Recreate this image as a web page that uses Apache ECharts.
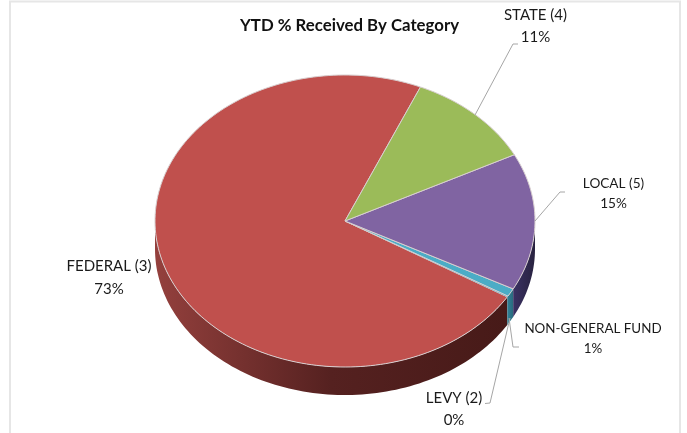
<!DOCTYPE html>
<html>
<head>
<meta charset="utf-8">
<style>html,body{margin:0;padding:0;background:#fff}#c{width:687px;height:433px}</style>
<script src="https://cdn.jsdelivr.net/npm/echarts@6/dist/echarts.min.js"></script>
</head>
<body>
<div id="c"></div>
<script>
const categories = ['STATE (4)', 'LOCAL (5)', 'NON-GENERAL FUND', 'LEVY (2)', 'FEDERAL (3)'];
const values = [11, 15.2, 0.9, 0.1, 72.8];
const percentLabels = ['11%', '15%', '1%', '0%', '73%'];
const topColors = ['#9BBB59', '#8064A2', '#4BACC6', '#4BACC6', '#C0504D'];
const sideLight = ['#6f8a3a', '#3a3163', '#2f7f95', '#2f7f95', '#8e3a38'];
const sideDark = ['#4f6429', '#28223f', '#2a6a7c', '#2a6a7c', '#451815'];

const cx = 345, cy = 221, rx = 190, ry = 146, depth = 28, startDeg = 23.4;
const total = values.reduce((a, b) => a + b, 0);
const labelPos = [[535.5, 26], [613.5, 194], [593, 338.5], [454, 409], [109, 277.5]];
const labelFont = [15, 13.6, 13.4, 15, 15];
const labelLine = [22, 20, 19.5, 22, 22.5];
const leaders = [
  [[475, 115], [513, 44], [518, 44]],
  [[535, 221], [560, 192], [565, 192]],
  [[509, 318], [513, 347], [519, 347]],
  [[510, 318], [490, 403], [485, 403.5]],
  null
];

function pt(deg, dy) {
  const a = deg * Math.PI / 180;
  return [cx + rx * Math.sin(a), cy - ry * Math.cos(a) + (dy || 0)];
}
function arc(a0, a1, dy) {
  const n = Math.max(2, Math.ceil(Math.abs(a1 - a0) / 1.5));
  const out = [];
  for (let i = 0; i <= n; i++) out.push(pt(a0 + (a1 - a0) * i / n, dy));
  return out;
}
function spans() {
  let s = startDeg;
  return values.map(v => { const e = s + v / total * 360; const r = [s, e]; s = e; return r; });
}
const sp = spans();

function renderItem(params, api) {
  const i = api.value(0);
  const [a0, a1] = sp[i];
  const kids = [];
  const w0 = Math.max(a0, 90), w1 = Math.min(a1, 270);
  if (w1 > w0) {
    const pts = arc(w0, w1, 0).concat(arc(w1, w0, depth));
    kids.push({
      type: 'polygon', shape: { points: pts },
      style: {
        fill: new echarts.graphic.LinearGradient(1, 0, 0, 0, i === 4 ? [
          { offset: 0, color: '#471a18' },
          { offset: 0.5, color: '#552120' },
          { offset: 1, color: '#94403d' }
        ] : [
          { offset: 0, color: sideDark[i] },
          { offset: 1, color: sideLight[i] }
        ])
      }
    });
  }
  const top = [[cx, cy]].concat(arc(a0, a1, 0));
  kids.push({
    type: 'polygon', shape: { points: top },
    style: { fill: topColors[i], stroke: '#d8cfd0', lineWidth: i === 3 ? 0.3 : 1, lineJoin: 'round' }
  });
  return { type: 'group', children: kids };
}

function renderLabel(params, api) {
  const i = api.value(0);
  const kids = [];
  if (leaders[i]) {
    kids.push({
      type: 'polyline', shape: { points: leaders[i] },
      style: { stroke: '#a6a6a6', lineWidth: 1, fill: 'none' }
    });
  }
  kids.push({
    type: 'text', x: labelPos[i][0], y: labelPos[i][1],
    style: {
      text: categories[i] + '\n' + percentLabels[i],
      fill: '#1a1a1a', font: labelFont[i] + 'px Lato, "Open Sans", sans-serif',
      align: 'center', verticalAlign: 'middle', lineHeight: labelLine[i]
    }
  });
  return { type: 'group', children: kids };
}

const chart = echarts.init(document.getElementById('c'), null, { renderer: 'canvas' });
chart.setOption({
  animation: false,
  backgroundColor: '#fff',
  title: {
    text: 'YTD % Received By Category', left: 235, top: 12,
    textStyle: { fontFamily: 'Lato, "Open Sans", sans-serif', fontSize: 16.8, fontWeight: 'bold', color: '#111' }
  },
  graphic: [{
    type: 'rect', silent: true, z: -1,
    shape: { x: 10, y: 1.5, width: 670, height: 440 },
    style: { fill: 'none', stroke: '#e6e6e6', lineWidth: 2 }
  }],
  series: [
    { type: 'custom', coordinateSystem: 'none', renderItem: renderItem, data: [4, 3, 2, 1, 0].map(i => [i, values[i]]), z: 2, silent: true },
    { type: 'custom', coordinateSystem: 'none', renderItem: renderLabel, data: categories.map((c, i) => [i, values[i]]), z: 3, silent: true }
  ]
});
</script>
</body>
</html>
